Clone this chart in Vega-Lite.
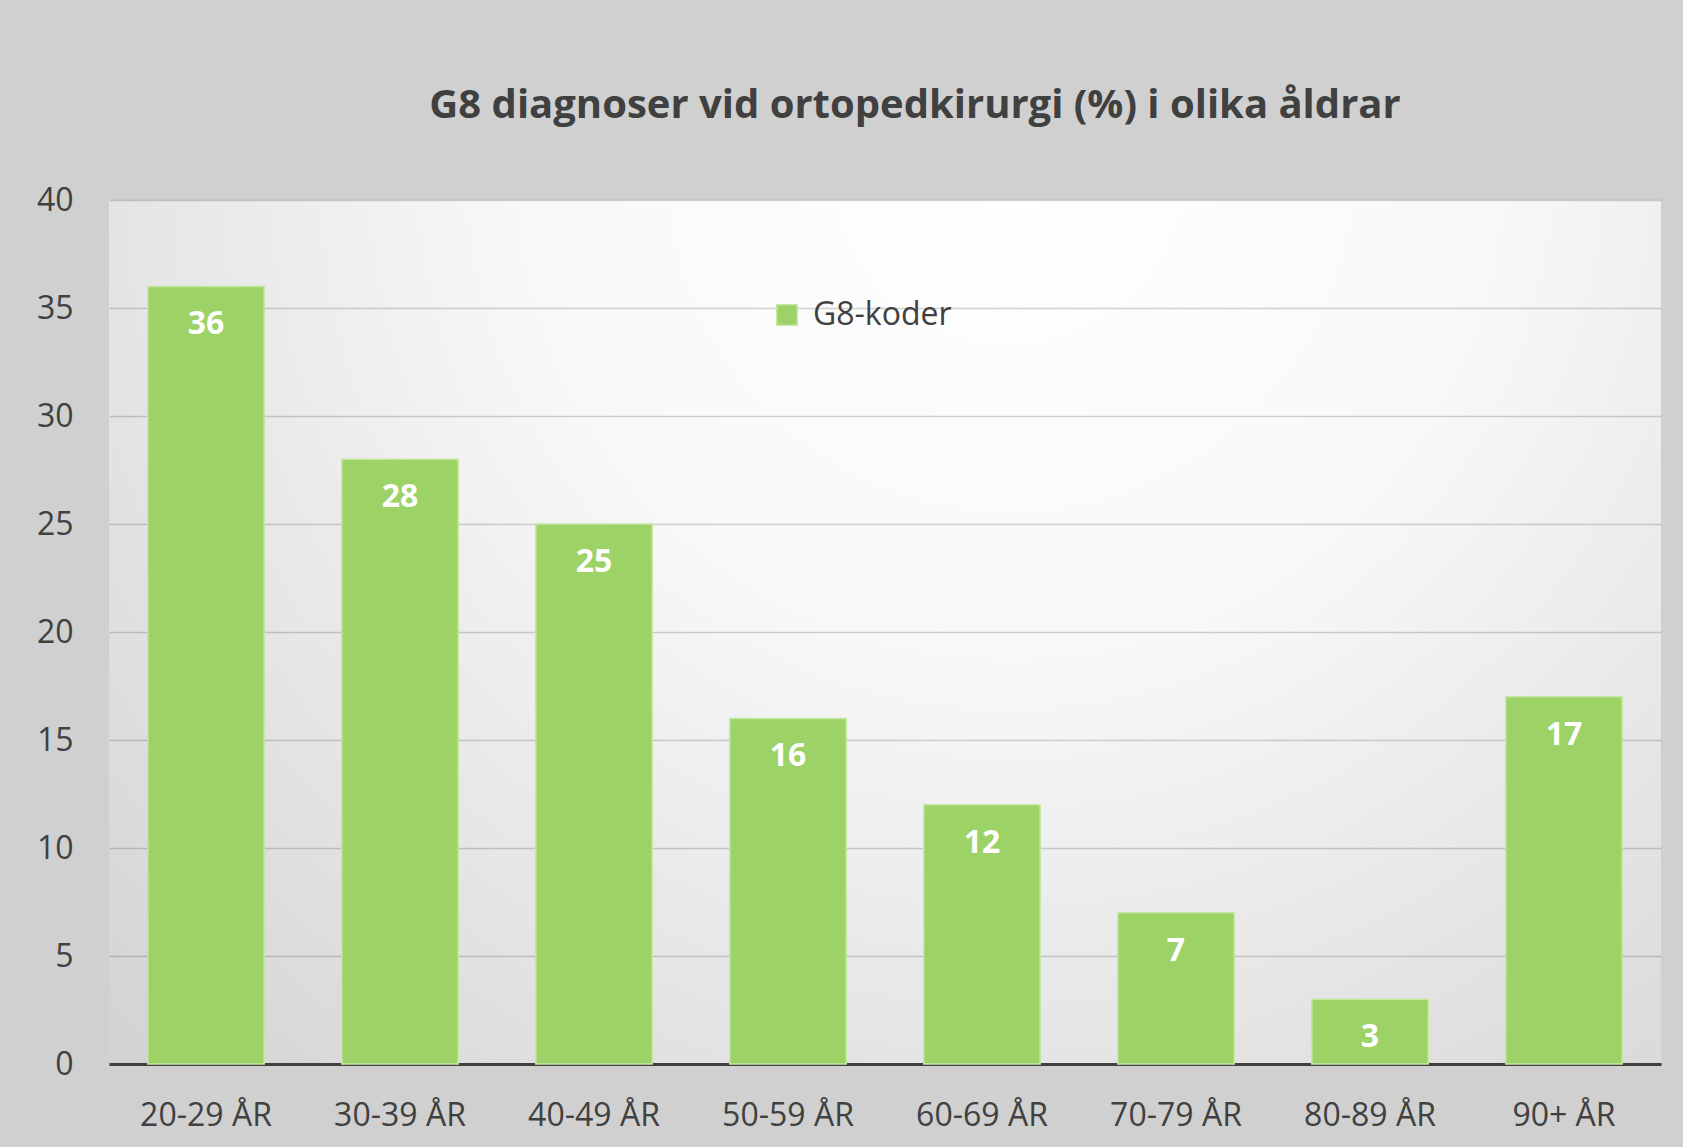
{
  "$schema": "https://vega.github.io/schema/vega-lite/v6.json",
  "width": 1552,
  "height": 864,
  "autosize": {"type": "none"},
  "padding": {"left": 109, "top": 200, "right": 22, "bottom": 83},
  "background": "#d0d0d0",
  "title": {
    "text": "G8 diagnoser vid ortopedkirurgi (%) i olika åldrar",
    "font": "Open Sans",
    "fontSize": 40,
    "fontWeight": "bold",
    "color": "#404040",
    "anchor": "middle",
    "frame": "group",
    "offset": 58,
    "dx": 30
  },
  "data": {
    "values": [
      {"age": "20-29 ÅR", "value": 36, "series": "G8-koder"},
      {"age": "30-39 ÅR", "value": 28, "series": "G8-koder"},
      {"age": "40-49 ÅR", "value": 25, "series": "G8-koder"},
      {"age": "50-59 ÅR", "value": 16, "series": "G8-koder"},
      {"age": "60-69 ÅR", "value": 12, "series": "G8-koder"},
      {"age": "70-79 ÅR", "value": 7, "series": "G8-koder"},
      {"age": "80-89 ÅR", "value": 3, "series": "G8-koder"},
      {"age": "90+ ÅR", "value": 17, "series": "G8-koder"}
    ]
  },
  "encoding": {
    "x": {
      "field": "age",
      "type": "nominal",
      "sort": null,
      "scale": {"paddingInner": 0.4, "paddingOuter": 0.2},
      "axis": {
        "title": null,
        "labelAngle": 0,
        "ticks": false,
        "grid": false,
        "domainColor": "#404040",
        "domainWidth": 3,
        "labelFont": "Open Sans",
        "labelFontSize": 32,
        "labelColor": "#404040",
        "labelPadding": 36
      }
    },
    "y": {
      "field": "value",
      "type": "quantitative",
      "scale": {"domain": [0, 40], "nice": false},
      "axis": {
        "title": null,
        "values": [0, 5, 10, 15, 20, 25, 30, 35, 40],
        "ticks": false,
        "domain": false,
        "grid": true,
        "gridColor": "#000000",
        "gridOpacity": 0.17,
        "gridWidth": 1.3,
        "labelFont": "Open Sans",
        "labelFontSize": 32,
        "labelColor": "#404040",
        "labelPadding": 36
      }
    }
  },
  "layer": [
    {
      "mark": {"type": "bar", "stroke": "#c6e6a4", "strokeWidth": 1.5},
      "encoding": {
        "color": {
          "field": "series",
          "type": "nominal",
          "scale": {"range": ["#9dd266"]},
          "legend": {
            "title": null,
            "orient": "none",
            "legendX": 662,
            "legendY": 99,
            "symbolType": "square",
            "symbolSize": 420,
            "symbolStrokeColor": "#c6e6a4",
            "symbolStrokeWidth": 1.5,
            "labelFont": "Open Sans",
            "labelFontSize": 32,
            "labelColor": "#404040",
            "labelOffset": 10
          }
        }
      }
    },
    {
      "mark": {
        "type": "text",
        "color": "#ffffff",
        "font": "Open Sans",
        "fontWeight": "bold",
        "fontSize": 32,
        "baseline": "middle",
        "dy": 38
      },
      "encoding": {"text": {"field": "value", "type": "quantitative"}}
    }
  ],
  "config": {
    "font": "Open Sans",
    "view": {
      "stroke": null,
      "fill": {
        "gradient": "radial",
        "x1": 0.58, "y1": 0.2, "r1": 0,
        "x2": 0.58, "y2": 0.2, "r2": 0.9,
        "stops": [
          {"offset": 0, "color": "#ffffff"},
          {"offset": 0.35, "color": "#f8f8f8"},
          {"offset": 1, "color": "#cccccc"}
        ]
      }
    }
  }
}
